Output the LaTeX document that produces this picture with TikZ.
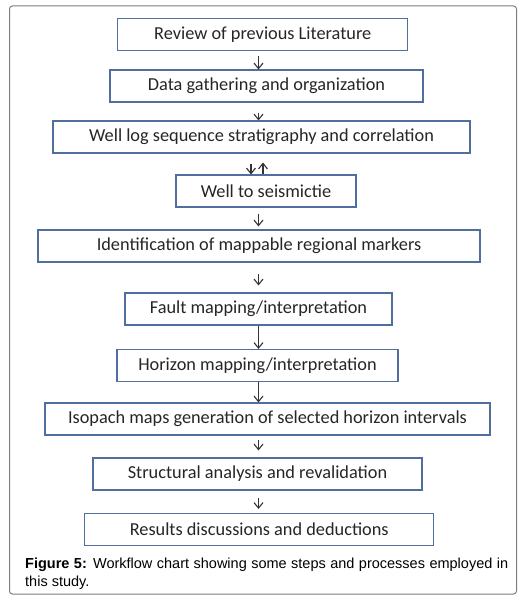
\documentclass[tikz,border=0pt]{standalone}
\usepackage{fontspec}
\setmainfont{Carlito}
\newfontfamily\capfont{Liberation Sans}
\usetikzlibrary{arrows.meta}
\definecolor{boxblue}{RGB}{80,110,160}
\definecolor{framegray}{RGB}{125,125,125}

\tikzset{
	stepbox/.style={draw=boxblue, line width=1.1pt, fill=white, minimum height=32pt,
		inner sep=0pt, text=black!85, font=\fontsize{18.3}{21}\selectfont},
	flow/.style={->, line width=1.1pt, black!80}
}

\begin{document}
\begin{tikzpicture}[x=1pt, y=-1pt, >={Straight Barb[length=5.5pt,width=9pt]}]
	\useasboundingbox (0,0) rectangle (530,602);
	\draw[framegray, line width=1pt, rounded corners=3pt] (9.5,6) rectangle (516.5,594);

	\node[stepbox, minimum width=290pt] (review) at (262.75,34.5) {Review of previous Literature};
	\node[stepbox, minimum width=313pt] (data) at (266.5,86) {Data gathering and organization};
	\node[stepbox, minimum width=417pt] (welllog) at (261.5,137) {Well log sequence stratigraphy and correlation};
	\node[stepbox, minimum width=180pt] (seis) at (266,191) {Well to seismictie};
	\node[stepbox, minimum width=442pt] (ident) at (259,246) {Identification of mappable regional markers};
	\node[stepbox, minimum width=267pt] (fault) at (258.5,309) {Fault mapping/interpretation};
	\node[stepbox, minimum width=281pt] (horizon) at (257.5,365.5) {Horizon mapping/interpretation};
	\node[stepbox, minimum width=445pt] (isopach) at (267.5,419) {Isopach maps generation of selected horizon intervals};
	\node[stepbox, minimum width=329pt] (struct) at (257.5,474) {Structural analysis and revalidation};
	\node[stepbox, minimum width=349pt] (results) at (259.25,529.5) {Results discussions and deductions};

	% arrow columns
	\coordinate (col) at (258.5,0);
	\coordinate (down) at (251,0);
	\coordinate (up) at (263,0);

	\foreach \a/\b/\s/\e in {review/data/5/0, data/welllog/10/0, seis/ident/6/3,
		ident/fault/11/7, fault/horizon/0/0, horizon/isopach/0/0,
		isopach/struct/4/7, struct/results/7/4}
		\draw[flow, shorten <=\s pt, shorten >=\e pt] (\a.south -| col) -- (\b.north -| col);
	\draw[flow, shorten <=10pt] (welllog.south -| down) -- (seis.north -| down);
	\draw[flow, shorten >=9pt] (seis.north -| up) -- (welllog.south -| up);

	\node[anchor=north west, inner sep=0pt, text width=483pt, align=justify,
		font=\capfont\fontsize{14.5}{17.5}\selectfont] (caption) at (25,558)
		{\textbf{Figure 5:} Workflow chart showing some steps and processes employed in\linebreak this study.};
\end{tikzpicture}
\end{document}
